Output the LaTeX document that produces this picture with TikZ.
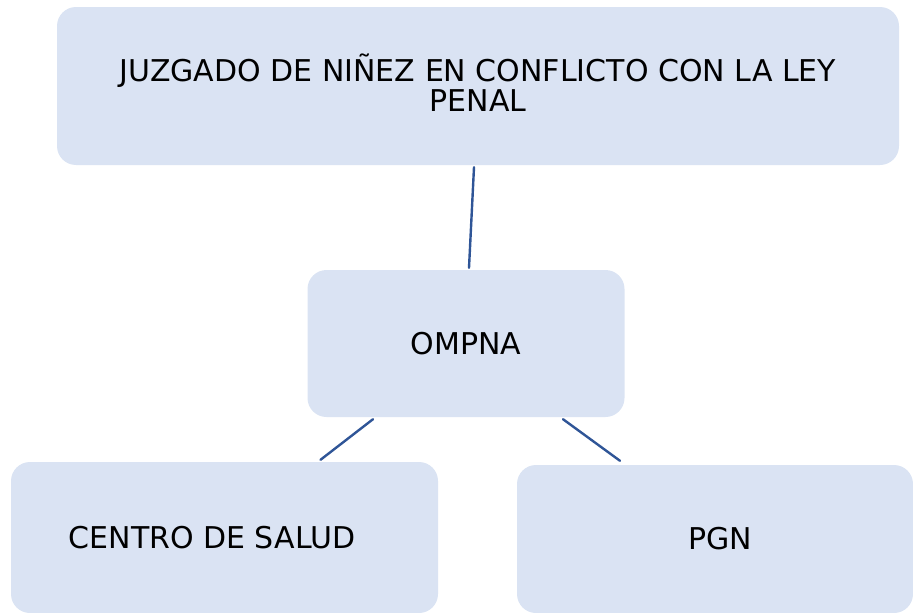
\documentclass[tikz,border=0pt]{standalone}
\usepackage{fontspec}
\setmainfont{DejaVu Sans}
\definecolor{boxfill}{HTML}{DAE3F3}
\definecolor{linkblue}{HTML}{2F5597}

\begin{document}
\begin{tikzpicture}[x=1pt, y=-1pt, line cap=round, line join=round,
  orgbox/.style={rectangle, rounded corners=19pt, fill=boxfill, inner sep=0pt,
    align=center, font=\fontsize{30}{30}\selectfont},
  link/.style={draw=linkblue, line width=2.4pt}]

% marco del dibujo
\useasboundingbox (0,0) rectangle (913,613);

% cajas
\node[orgbox, minimum width=842pt, minimum height=158pt] (juzgado) at (478,86)
  {JUZGADO DE NIÑEZ EN CONFLICTO CON LA LEY\\PENAL\rule[-6pt]{0pt}{0pt}};
\node[orgbox, minimum width=317pt, minimum height=147pt] (ompna) at (466,343.5) {OMPNA};
\node[orgbox, minimum width=427pt, minimum height=151pt] (salud) at (224.5,537.5)
  {CENTRO DE SALUD\hspace*{25pt}};
\node[orgbox, minimum width=396pt, minimum height=148pt] (pgn) at (715,539)
  {\hspace*{10pt}PGN};

% conexiones
\draw[link] ([xshift=-4pt, yshift=-2pt]juzgado.south) -- ([xshift=3pt, yshift=2pt]ompna.north);
\draw[link] ([xshift=-93pt, yshift=-2pt]ompna.south) -- ([xshift=96pt, yshift=2pt]salud.north);
\draw[link] ([xshift=97pt, yshift=-2pt]ompna.south) -- ([xshift=-95pt, yshift=4pt]pgn.north);

\end{tikzpicture}
\end{document}
